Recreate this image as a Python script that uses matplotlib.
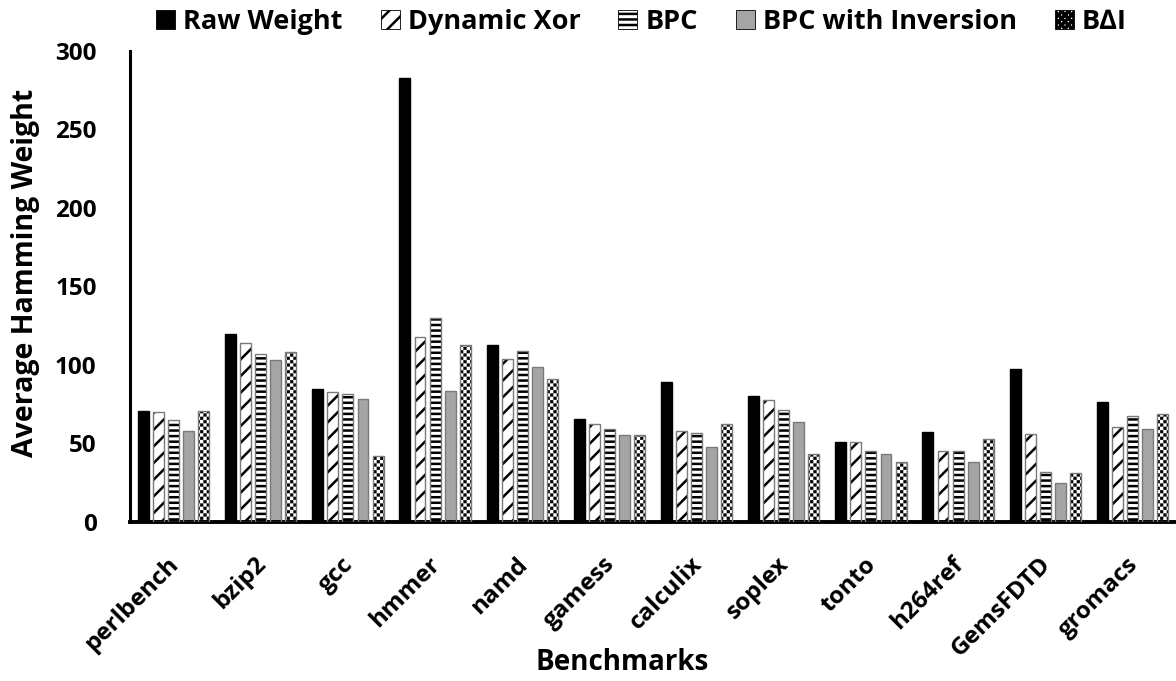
import numpy as np
import matplotlib
matplotlib.use("Agg")
import matplotlib.pyplot as plt
import matplotlib.hatch as mhatch
import matplotlib.transforms as mtransforms
from matplotlib.hatch import HatchPatternBase
from matplotlib.path import Path
from matplotlib.patches import Patch
import warnings
warnings.filterwarnings("ignore")

# ---------------- data ----------------
benchmarks = ["perlbench", "bzip2", "gcc", "hmmer", "namd", "gamess",
              "calculix", "soplex", "tonto", "h264ref", "GemsFDTD", "gromacs"]
series_names = ["Raw Weight", "Dynamic Xor", "BPC", "BPC with Inversion", "B\u2206I"]
raw_weight = [71, 120, 85, 283, 113, 65.5, 89, 80.5, 51, 57.5, 97.5, 76.5]
dynamic_xor = [70, 114, 83, 118, 104, 62.5, 58, 77.5, 51, 45, 56, 60.5]
bpc = [65, 107, 81.5, 130, 109, 59, 57, 71.5, 45, 45, 32, 67.5]
bpc_inversion = [58, 103, 78.5, 83.5, 99, 55.5, 48, 63.5, 43, 38, 25, 59]
bdi = [71, 108, 42, 113, 91, 55.5, 62.5, 43, 38, 53, 31, 68.5]
y_ticks = [0, 50, 100, 150, 200, 250, 300]


# ---------------- custom checkerboard hatch ('c') ----------------
class CheckerHatch(HatchPatternBase):
    def __init__(self, hatch, density):
        self.n = int(hatch.count('c') * density)
        if self.n % 2:
            self.n += 1
        self.num_vertices = (self.n * self.n // 2) * 5 if self.n else 0

    def set_vertices_and_codes(self, vertices, codes):
        n = self.n
        s = 1.0 / n
        sh = s * 0.08
        k = 0
        for i in range(n):
            for j in range(n):
                if (i + j) % 2 == 0:
                    x0, y0 = i * s + sh, j * s + sh
                    x1, y1 = (i + 1) * s - sh, (j + 1) * s - sh
                    vertices[k:k + 5] = [(x0, y0), (x1, y0), (x1, y1), (x0, y1), (x0, y0)]
                    codes[k:k + 5] = [Path.MOVETO, Path.LINETO, Path.LINETO,
                                      Path.LINETO, Path.CLOSEPOLY]
                    k += 5


mhatch._hatch_types.append(CheckerHatch)
try:
    mhatch._validate_hatch_pattern = lambda hatch: None
except Exception:
    pass

plt.rcParams['font.family'] = ['Open Sans', 'DejaVu Sans']
plt.rcParams['font.weight'] = 'bold'
plt.rcParams['hatch.linewidth'] = 1.8

W, H = 1176, 681
fig = plt.figure(figsize=(W / 100, H / 100), dpi=100)
ax = fig.add_axes([130 / W, 1 - 522 / H, (W - 130) / W, (522 - 51) / H])

x = np.arange(len(benchmarks))
step = 0.173
bw = 0.125
all_series = [raw_weight, dynamic_xor, bpc, bpc_inversion, bdi]
styles = [
    dict(color="black", hatch=None),
    dict(color="white", hatch="//"),
    dict(color="white", hatch="---"),
    dict(color="#a5a5a5", hatch=None),
    dict(color="white", hatch="ccccc"),
]

handles = []
for k, (vals, st) in enumerate(zip(all_series, styles)):
    pos = x + (k - 2) * step
    lw_h = 1.8
    if st["hatch"] == "ccccc":
        lw_h = 0.3
    with plt.rc_context({'hatch.linewidth': lw_h}):
        ax.bar(pos, vals, width=bw, color=st["color"], hatch=st["hatch"],
               edgecolor="black", linewidth=0, zorder=2)
    ax.bar(pos, vals, width=bw, fill=False, edgecolor="#7a7a7a" if k != 0 else "black",
           linewidth=1.0, zorder=3)
    with plt.rc_context({'hatch.linewidth': lw_h}):
        handles.append(Patch(facecolor=st["color"], hatch=st["hatch"], edgecolor="black",
                             linewidth=0.6, label=series_names[k]))

ax.set_xlim(-0.5, len(benchmarks) - 0.5)
ax.set_ylim(0, 300)
ax.set_yticks(y_ticks)
ax.set_yticklabels([str(t) for t in y_ticks], fontsize=17.5, fontweight='bold')
ax.set_xticks(x)
ax.set_xticklabels(benchmarks, rotation=45, ha='right', va='center',
                   rotation_mode='anchor', fontsize=17.5, fontweight='bold')
ax.tick_params(axis='x', length=0, pad=28)
ax.tick_params(axis='y', length=0, pad=24)
shift = mtransforms.ScaledTranslation(2 / 100, 0, fig.dpi_scale_trans)
for lab in ax.get_xticklabels():
    lab.set_transform(lab.get_transform() + shift)

for s in ['top', 'right']:
    ax.spines[s].set_visible(False)
ax.spines['left'].set_linewidth(2.2)
ax.spines['bottom'].set_linewidth(2.8)

ax.set_ylabel("Average Hamming Weight", fontsize=20.5, fontweight='bold')
ax.yaxis.set_label_coords(-0.086, 0.528)
ax.set_xlabel("Benchmarks", fontsize=20, fontweight='bold')
ax.xaxis.set_label_coords(0.4704, -0.2675)

leg = fig.legend(handles=handles, loc='upper center', bbox_to_anchor=(0.5455, 1.022),
                 ncol=5, frameon=False, handlelength=0.7, handleheight=0.7,
                 handletextpad=0.3, columnspacing=1.4, prop={'weight': 'bold', 'size': 19.5})

fig.savefig("out.png", dpi=100)
